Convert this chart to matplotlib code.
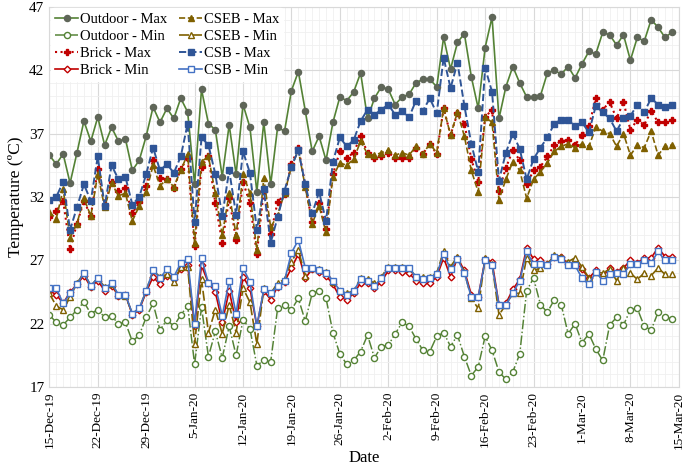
import matplotlib
matplotlib.use("Agg")
import matplotlib.pyplot as plt
import matplotlib.dates as mdates
from matplotlib.ticker import MultipleLocator
import pandas as pd

plt.rcParams['font.family'] = ['Liberation Serif', 'DejaVu Serif']

# Daily values, 15-Dec-2019 .. 14-Mar-2020
outdoor_max = [35.3, 34.6, 35.4, 33.1, 35.5, 38.0, 36.4, 38.3, 36.1, 37.5,
               36.4, 36.6, 34.1, 34.9, 36.8, 39.1, 37.9, 39.0, 38.2, 39.8,
               38.7, 33.0, 40.5, 37.8, 37.3, 33.6, 37.7, 33.8, 39.3, 37.5,
               32.4, 37.9, 33.0, 37.5, 37.2, 40.4, 41.9, 38.8, 35.6, 36.8,
               34.9, 37.9, 39.9, 39.6, 40.3, 41.8, 38.2, 39.8, 40.7, 40.5,
               39.3, 39.9, 40.1, 41.0, 41.3, 41.3, 40.7, 44.6, 42.1, 44.2,
               44.9, 41.5, 39.0, 43.8, 46.2, 38.2, 40.7, 42.3, 41.0, 39.9,
               39.9, 40.0, 41.8, 42.0, 41.7, 42.3, 41.4, 42.5, 43.5, 43.3,
               45.0, 44.8, 44.0, 44.8, 42.8, 44.6, 44.3, 46.0, 45.4, 44.6, 45.0]
outdoor_min = [22.7, 22.1, 21.9, 22.5, 23.1, 23.7, 22.8, 23.1, 22.5, 22.6,
               22.0, 22.1, 20.6, 21.1, 22.5, 23.6, 21.5, 22.3, 21.8, 22.7,
               23.4, 18.8, 23.3, 19.4, 21.4, 19.3, 21.8, 19.5, 22.3, 21.6,
               18.7, 19.1, 19.0, 23.2, 23.5, 23.1, 24.0, 22.2, 24.4, 24.6,
               24.0, 21.3, 19.6, 18.8, 19.1, 19.8, 21.1, 19.3, 20.2, 20.3,
               21.2, 22.1, 21.8, 20.8, 19.9, 19.8, 21.0, 21.3, 20.2, 21.1,
               19.4, 17.9, 18.6, 21.0, 19.9, 18.2, 17.6, 18.2, 19.6, 24.6,
               25.6, 23.5, 22.9, 23.9, 23.5, 21.2, 22.0, 20.5, 21.2, 20.0,
               19.1, 21.9, 22.5, 21.9, 23.1, 23.2, 21.8, 21.5, 22.9, 22.5, 22.4]
brick_max = [30.4, 30.9, 31.7, 27.9, 29.9, 31.7, 30.5, 34.2, 31.4, 33.2,
             32.5, 32.7, 30.7, 31.6, 32.9, 34.9, 33.5, 33.4, 32.7, 34.2,
             35.1, 28.1, 34.4, 35.2, 31.5, 28.4, 31.9, 28.6, 33.2, 31.5,
             27.5, 32.5, 29.1, 31.6, 32.2, 34.6, 35.9, 32.9, 30.0, 31.5,
             29.5, 33.8, 35.6, 35.1, 35.5, 36.8, 35.5, 35.1, 35.2, 35.5,
             35.1, 35.1, 35.1, 35.9, 35.4, 36.2, 35.4, 39.0, 36.9, 38.6,
             37.8, 35.0, 33.2, 38.3, 38.9, 32.5, 34.3, 35.7, 34.9, 33.0,
             34.1, 34.4, 35.2, 36.1, 36.4, 36.5, 36.1, 36.9, 37.6, 39.8,
             38.9, 39.5, 38.2, 39.5, 37.3, 38.1, 37.7, 38.8, 37.9, 37.9, 38.1]
brick_min = [24.6, 24.3, 23.6, 24.5, 25.1, 25.8, 24.9, 25.4, 24.6, 25.0,
             24.2, 24.3, 22.7, 23.1, 24.5, 25.7, 25.1, 25.8, 25.5, 26.3,
             26.6, 21.8, 26.6, 25.2, 24.5, 22.1, 24.6, 22.1, 25.7, 24.8,
             21.8, 24.6, 23.9, 24.9, 25.3, 26.4, 27.5, 25.6, 26.3, 26.1,
             25.8, 25.1, 24.1, 23.9, 24.4, 25.2, 25.2, 24.8, 25.3, 26.2,
             26.2, 26.1, 26.0, 25.4, 25.2, 25.2, 25.7, 27.2, 25.7, 27.2,
             26.2, 24.3, 24.1, 27.1, 26.9, 23.5, 23.6, 24.7, 25.5, 28.0,
             27.1, 27.0, 26.7, 27.3, 27.3, 26.7, 26.9, 26.3, 25.6, 26.2,
             25.7, 26.4, 26.1, 26.4, 27.0, 26.8, 27.2, 27.2, 28.0, 27.3, 27.3]
cseb_max = [30.8, 30.3, 32.6, 28.8, 29.9, 31.9, 30.5, 33.8, 31.2, 33.1,
            32.1, 32.3, 30.1, 31.3, 32.4, 34.5, 32.9, 33.4, 32.8, 34.1,
            35.4, 28.4, 34.8, 35.2, 32.3, 29.0, 32.3, 29.0, 33.8, 32.3,
            27.8, 33.5, 29.6, 30.6, 32.3, 34.4, 35.7, 32.8, 29.9, 31.3,
            29.2, 33.6, 34.7, 34.5, 35.0, 36.4, 35.4, 35.3, 35.5, 35.7,
            35.3, 35.5, 35.3, 36.0, 35.4, 36.2, 35.5, 39.0, 36.9, 38.7,
            36.8, 34.1, 32.4, 38.3, 37.9, 31.8, 33.4, 34.8, 34.1, 31.9,
            33.4, 34.0, 34.7, 35.6, 36.0, 36.2, 35.9, 36.2, 36.0, 37.5,
            37.2, 37.0, 36.0, 37.0, 35.3, 36.1, 35.9, 37.2, 35.3, 36.0, 36.1]
cseb_min = [24.4, 23.4, 23.1, 24.1, 25.2, 26.0, 25.0, 25.6, 24.9, 25.1,
            24.3, 24.2, 22.8, 23.2, 24.6, 26.2, 25.7, 25.9, 25.3, 26.5,
            26.5, 20.4, 25.5, 21.3, 23.1, 21.2, 23.5, 21.3, 24.8, 23.7,
            20.4, 24.8, 24.4, 25.2, 25.5, 26.9, 27.8, 25.8, 26.4, 26.3,
            26.1, 25.3, 24.6, 24.4, 24.6, 25.6, 25.5, 25.2, 25.7, 26.5,
            26.5, 26.5, 26.4, 25.7, 25.7, 25.7, 26.0, 27.7, 26.5, 27.3,
            26.1, 24.0, 23.2, 27.2, 26.7, 22.7, 23.5, 24.4, 24.4, 27.2,
            26.2, 26.4, 26.7, 27.4, 27.3, 26.9, 27.2, 26.5, 25.6, 26.1,
            26.0, 26.3, 25.4, 26.4, 26.0, 25.5, 26.0, 25.8, 26.4, 25.9, 25.9]
csb_max = [31.8, 32.0, 33.2, 29.4, 31.2, 33.0, 31.7, 35.2, 31.3, 34.5,
           33.4, 33.6, 31.4, 32.0, 33.8, 35.9, 34.1, 34.6, 33.9, 35.2,
           37.8, 30.0, 36.7, 36.1, 33.8, 30.5, 34.1, 30.6, 35.6, 33.9,
           29.4, 32.6, 28.4, 30.4, 32.5, 34.4, 35.7, 33.0, 30.7, 32.4,
           30.1, 34.8, 36.7, 36.0, 36.5, 38.0, 38.9, 38.5, 38.9, 39.3,
           38.5, 38.8, 38.3, 39.6, 38.8, 39.8, 38.6, 43.0, 40.6, 42.6,
           39.2, 36.2, 34.0, 42.2, 40.3, 33.3, 35.5, 37.0, 35.8, 33.4,
           35.0, 35.9, 36.7, 37.8, 38.1, 38.1, 37.6, 37.9, 37.1, 39.2,
           38.7, 38.2, 37.2, 38.2, 38.4, 39.3, 38.7, 39.8, 39.3, 39.1, 39.3]
csb_min = [24.8, 24.8, 23.6, 24.4, 25.1, 26.0, 25.0, 25.6, 24.8, 25.2,
           24.3, 24.3, 22.8, 23.2, 24.6, 26.2, 25.6, 26.3, 25.7, 26.8,
           27.1, 22.0, 27.2, 25.2, 25.0, 22.6, 25.4, 22.8, 26.4, 25.3,
           21.8, 24.7, 24.4, 25.0, 25.4, 27.6, 28.6, 26.4, 26.4, 26.2,
           26.0, 25.4, 24.6, 24.3, 24.6, 25.5, 25.4, 25.0, 25.6, 26.4,
           26.4, 26.4, 26.4, 25.7, 25.5, 25.6, 25.9, 27.5, 26.3, 27.1,
           26.0, 24.1, 24.1, 27.0, 26.6, 23.5, 23.5, 24.4, 25.4, 27.7,
           26.7, 26.7, 26.6, 27.3, 27.1, 26.6, 26.6, 25.6, 25.1, 26.1,
           25.4, 25.9, 26.0, 25.9, 26.7, 26.7, 27.0, 26.8, 27.7, 27.0, 27.0]

y_ticks = [17, 22, 27, 32, 37, 42, 47]

dates = pd.date_range("2019-12-15", periods=len(outdoor_max), freq="D")
tick_dates = pd.date_range("2019-12-15", "2020-03-15", freq="7D")

green = '#548235'
red = '#C00000'
brown = '#7F6000'
blue = '#2F5597'
blue_light = '#4472C4'

fig, ax = plt.subplots(figsize=(6.85, 4.68), dpi=100)
fig.subplots_adjust(left=0.072, right=0.991, top=0.985, bottom=0.173)

ms = 3.8
lw = 1.2
ax.plot(dates, outdoor_max, '-', color=green, lw=lw, marker='o', ms=ms + 0.6,
        mfc='#5f6658', mec='#5f6658', label='Outdoor - Max')
ax.plot(dates, outdoor_min, '-.', color=green, lw=lw * 0.9, marker='o', ms=ms + 0.6,
        mfc='white', mec=green, mew=1.0, label='Outdoor - Min')
ax.plot(dates, brick_max, ':', color=red, lw=lw + 0.3, marker='P', ms=ms + 0.4,
        mfc=red, mec=red, label='Brick - Max')
ax.plot(dates, brick_min, '-', color=red, lw=lw, marker='D', ms=ms - 0.4,
        mfc='white', mec=red, mew=1.0, label='Brick - Min')
ax.plot(dates, cseb_max, '--', color=brown, lw=lw, marker='^', ms=ms,
        mfc=brown, mec=brown, label='CSEB - Max')
ax.plot(dates, cseb_min, '--', color=brown, lw=lw, marker='^', ms=ms + 0.6,
        mfc='white', mec=brown, mew=1.0, dashes=(6, 2), label='CSEB - Min')
ax.plot(dates, csb_max, '--', color=blue, lw=lw + 0.2, marker='s', ms=ms,
        mfc=blue, mec=blue, label='CSB - Max')
ax.plot(dates, csb_min, '-', color=blue_light, lw=lw, marker='s', ms=ms,
        mfc='white', mec=blue_light, mew=1.0, label='CSB - Min')

ax.set_ylim(17, 47)
ax.set_xlim(dates[0], tick_dates[-1])
ax.set_yticks(y_ticks)
ax.yaxis.set_minor_locator(MultipleLocator(1))
ax.set_xticks(tick_dates)
ax.set_xticklabels([f"{d.day}-{d.strftime('%b-%y')}" for d in tick_dates],
                   rotation=90, fontsize=9.5)
ax.xaxis.set_minor_locator(mdates.DayLocator())
ax.tick_params(axis='y', labelsize=11)
ax.tick_params(which='both', length=0)

ax.grid(which='major', color='#d9d9d9', lw=0.8)
ax.grid(which='minor', color='#f0f0f0', lw=0.6)
ax.set_axisbelow(True)
for s in ax.spines.values():
    s.set_color('#d9d9d9')

ax.set_xlabel('Date', fontsize=12, labelpad=1)
ax.set_ylabel('Temperature (ºC)', fontsize=12.5, labelpad=4)

leg = ax.legend(loc='upper left', ncol=2, fontsize=10.5, frameon=True,
                facecolor='white', edgecolor='white', framealpha=1,
                handlelength=1.6, handletextpad=0.1, columnspacing=0.8,
                labelspacing=0.25, borderaxespad=0.1, borderpad=0.3)

fig.savefig('out.png', dpi=100)
